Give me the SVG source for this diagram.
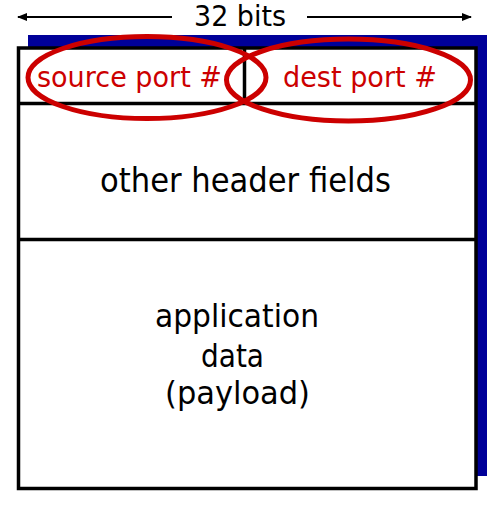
<svg xmlns="http://www.w3.org/2000/svg" width="498" height="506" viewBox="0 0 498 506">
<style>
.t{font-family:"DejaVu Sans","Liberation Sans",sans-serif;fill:#000;text-anchor:middle}
.r{font-family:"DejaVu Sans","Liberation Sans",sans-serif;fill:#cc0000;text-anchor:middle}
.box{fill:#fff;stroke:#000;stroke-width:3.5}
.ln{stroke:#000;stroke-width:3.5}
.ell{fill:none;stroke:#cc0000;stroke-width:5}
.arr{stroke:#000;stroke-width:2;fill:none}
</style>
<defs>
<marker id="ah" markerWidth="10" markerHeight="8" refX="9" refY="4" orient="auto" markerUnits="userSpaceOnUse">
<path d="M0,0 L10,4 L0,8 Z" fill="#000"/>
</marker>
</defs>
<g id="connectors">
<line class="arr" x1="172" y1="17" x2="18" y2="17" marker-end="url(#ah)"/>
<line class="arr" x1="307" y1="17" x2="471" y2="17" marker-end="url(#ah)"/>
</g>
<g id="width-label"><text class="t" x="240" y="26" font-size="29" textLength="92" lengthAdjust="spacingAndGlyphs">32 bits</text></g>
<g id="segment">
<rect x="28" y="35" width="459" height="441" fill="#000099"/>
<rect class="box" x="18.5" y="48" width="457.5" height="440.5"/>
<line class="ln" x1="18.5" y1="103.5" x2="476" y2="103.5"/>
<line class="ln" x1="18.5" y1="239.5" x2="476" y2="239.5"/>
<line class="ln" x1="244.5" y1="48" x2="244.5" y2="103.5"/>
</g>
<g id="source-port"><text class="r" x="129.5" y="87" font-size="29" textLength="185" lengthAdjust="spacingAndGlyphs">source port #</text></g>
<g id="dest-port"><text class="r" x="360" y="87" font-size="29" textLength="154" lengthAdjust="spacingAndGlyphs">dest port #</text></g>
<g id="other-header"><text class="t" x="245.5" y="192" font-size="33" textLength="291" lengthAdjust="spacingAndGlyphs">other header fields</text></g>
<g id="payload">
<text class="t" x="237" y="327" font-size="32" textLength="164" lengthAdjust="spacingAndGlyphs">application</text>
<text class="t" x="232.5" y="367" font-size="32" textLength="63" lengthAdjust="spacingAndGlyphs">data</text>
<text class="t" x="237.5" y="404" font-size="32" textLength="145" lengthAdjust="spacingAndGlyphs">(payload)</text>
</g>
<g id="highlights">
<ellipse class="ell" cx="147" cy="77.5" rx="119" ry="41"/>
<ellipse class="ell" cx="348.5" cy="80" rx="122" ry="41"/>
</g>
</svg>
